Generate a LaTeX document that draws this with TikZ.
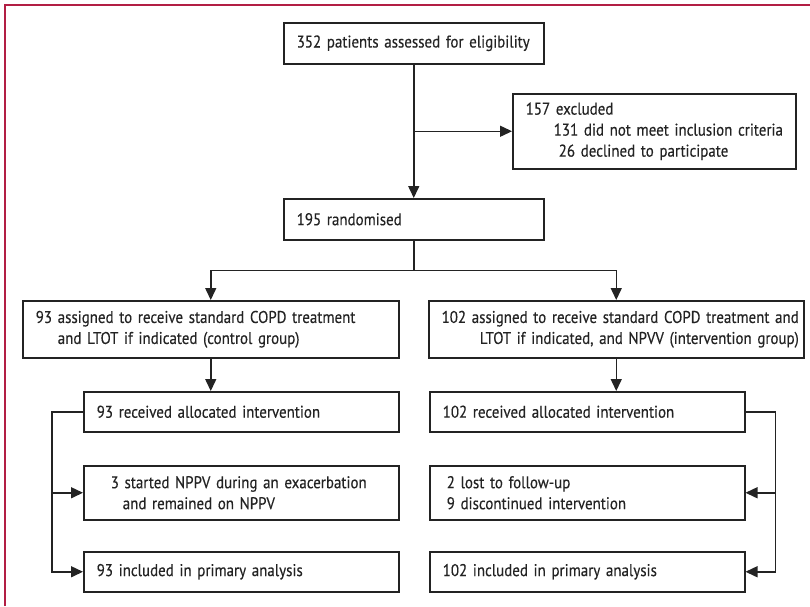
\documentclass[tikz,border=0pt]{standalone}
\usepackage{fontspec}
\setmainfont{PT Sans}[FakeStretch=0.88,FakeBold=0.35]
\usetikzlibrary{arrows.meta}
\definecolor{lancetred}{RGB}{178,30,68}
\definecolor{linegray}{RGB}{35,35,35}
\newcommand\flowfont{\fontsize{17}{21}\selectfont\spaceskip=3.4pt plus 1pt minus 1pt\relax}
\begin{document}
\begin{tikzpicture}[x=1pt,y=-1pt,>={Triangle[length=12pt,width=11pt]},
every node/.style={font=\flowfont,text=linegray},
box/.style={draw=linegray,line width=1.5pt,anchor=north west,align=left,inner xsep=13pt,inner ysep=2pt},
link/.style={draw=linegray,line width=1.5pt}]
\useasboundingbox (0,0) rectangle (810,606);
\draw[lancetred,line width=1.6pt] (5,606) -- (5,5) -- (810,5);
\node[box,text width=234pt,minimum height=41pt] (elig) at (283,22) {352 patients assessed for eligibility};
\node[box,text width=257pt,minimum height=75pt] (excl) at (512,93)
{157 excluded\\
 \hspace*{28pt}\mbox{131 did not meet inclusion criteria}\\
 \hspace*{33pt}26 declined to participate};
\node[box,text width=234pt,minimum height=41pt] (rand) at (283,198) {195 randomised};
\node[box,text width=350pt,minimum height=57pt] (asgnL) at (22,300)
{93 assigned to receive standard COPD treatment\\
 \hspace*{22pt}and LTOT if indicated (control group)};
\node[box,align=right,inner xsep=5pt,text width=365pt,minimum height=57pt] (asgnR) at (428,300)
{102 assigned to receive standard COPD treatment and\\
 LTOT if indicated, and NPVV (intervention group)};
\node[box,text width=289pt,minimum height=40pt] (recL) at (83,391) {93 received allocated intervention};
\node[box,text width=289pt,minimum height=40pt] (recR) at (429,391) {102 received allocated intervention};
\node[box,text width=289pt,minimum height=54pt] (midL) at (83,465)
{\hspace*{14pt}3 started NPPV during an exacerbation\\
 \hspace*{26pt}and remained on NPPV};
\node[box,text width=289pt,minimum height=54pt] (midR) at (429,465)
{\hspace*{4pt}2 lost to follow-up\\
 \hspace*{4pt}9 discontinued intervention};
\node[box,text width=289pt,minimum height=40pt] (incL) at (83,551) {93 included in primary analysis};
\node[box,text width=289pt,minimum height=40pt] (incR) at (429,551) {102 included in primary analysis};
\draw[link,->] (elig) -- (rand);
\draw[link,->] (elig.south |- excl.west) -- (excl.west);
\draw[link] (rand.south) -- ++(0,30) coordinate (split);
\draw[link,->] (split) -| (asgnL.north);
\draw[link,->] (split) -| (asgnR.north);
\draw[link,->] (asgnL.south) -- (asgnL.south |- recL.north);
\draw[link,->] (asgnR.south) -- (asgnR.south |- recR.north);
\draw[link,->] (recL.west) -- ++(-31,0) coordinate (lbr) |- (incL.west);
\draw[link,->] (lbr |- midL.west) -- (midL.west);
\draw[link,->] (recR.east) -- ++(30,0) coordinate (rbr) |- (incR.east);
\draw[link,->] (rbr |- midR.east) -- (midR.east);
\end{tikzpicture}
\end{document}
